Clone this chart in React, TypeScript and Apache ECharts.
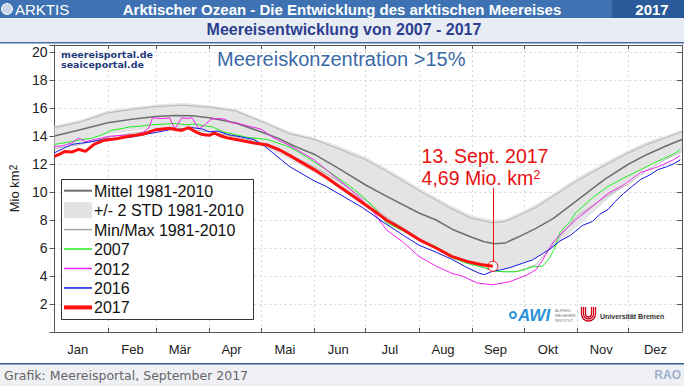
import React, { useEffect, useRef } from "react";
import * as echarts from "echarts";

// ---- axis / tick definitions ----
const monthStarts = [0, 31, 59, 90, 120, 151, 181, 212, 243, 273, 304, 334, 365];
const monthLabelDays = [13.6, 45.4, 73, 103, 134, 165, 195, 226, 256.5, 287, 318, 349.6];
const monthNames = ["Jan", "Feb", "Mär", "Apr", "Mai", "Jun", "Jul", "Aug", "Sep", "Okt", "Nov", "Dez"];

// ---- climatology 1981-2010 ----
const meanDays = [0, 15, 31, 45, 59, 70, 80, 90, 105, 120, 130, 140, 151, 165, 181, 193, 212, 222, 232, 243, 250, 256, 262, 270, 280, 290, 304, 320, 334, 345, 355, 365];
const meanIce = [14.0, 14.45, 14.95, 15.2, 15.4, 15.47, 15.45, 15.3, 14.95, 14.3, 13.85, 13.25, 12.7, 11.7, 10.5, 9.7, 8.5, 8.0, 7.3, 6.75, 6.45, 6.3, 6.35, 6.8, 7.4, 8.1, 9.4, 10.9, 12.0, 12.7, 13.25, 13.75];

const bandDays = [0, 15, 31, 45, 59, 75, 90, 105, 120, 137, 151, 165, 181, 193, 212, 231, 243, 255, 262, 270, 280, 290, 304, 320, 334, 345, 355, 365];
const bandUpper = [14.75, 15.15, 15.8, 16.05, 16.25, 16.35, 16.2, 15.95, 15.2, 14.3, 13.9, 13.3, 12.5, 11.7, 10.3, 9.0, 8.3, 8.0, 8.05, 8.5, 9.1, 9.9, 11.0, 12.1, 13.0, 13.6, 14.0, 14.45];
const bandLower = [13.25, 13.55, 14.1, 14.35, 14.55, 14.6, 14.4, 14.0, 13.3, 12.3, 11.4, 10.3, 8.9, 7.9, 6.5, 5.3, 4.75, 4.5, 4.5, 4.8, 5.3, 6.0, 7.5, 9.3, 10.8, 11.8, 12.4, 13.0];
const maxIce = [14.6, 15.0, 15.65, 15.9, 16.1, 16.2, 16.05, 15.8, 15.05, 14.15, 13.75, 13.1, 12.3, 11.5, 10.1, 8.8, 8.1, 7.8, 7.9, 8.3, 8.9, 9.7, 10.8, 11.9, 12.8, 13.4, 13.85, 14.3];
const minIce = [13.1, 13.4, 13.9, 14.2, 14.4, 14.5, 14.3, 13.95, 13.5, 12.6, 11.8, 10.8, 9.4, 8.2, 6.7, 5.4, 4.9, 4.35, 4.3, 4.35, 4.8, 6.2, 8.3, 9.6, 10.6, 11.6, 12.3, 12.9];

// ---- individual years ----
const days2007 = [0, 5, 10, 16, 22, 28, 33, 40, 44, 50, 56, 63, 70, 76, 82, 88, 92, 98, 104, 112, 124, 137, 144, 151, 158, 165, 172, 179, 186, 193, 203, 212, 222, 231, 240, 250, 256, 262, 268, 272, 278, 284, 288, 291, 294, 300, 303, 313, 322, 331, 341, 351, 360, 364];
const ice2007 = [13.4, 13.5, 13.6, 13.75, 13.85, 14.1, 14.4, 14.55, 14.65, 14.7, 14.8, 14.85, 14.9, 14.8, 14.85, 14.7, 14.65, 14.3, 14.15, 13.9, 13.75, 13.2, 12.7, 12.15, 11.6, 11.0, 10.4, 9.7, 8.9, 7.8, 7.2, 6.6, 6.1, 5.3, 4.9, 4.6, 4.35, 4.3, 4.3, 4.4, 4.65, 4.7, 5.3, 6.0, 7.1, 7.9, 8.5, 9.6, 10.4, 11.0, 11.6, 12.2, 12.7, 13.0];

const days2012 = [0, 5, 10, 14, 18, 25, 33, 40, 48, 52, 55, 57, 62, 64, 67, 70, 74, 77, 80, 84, 88, 91, 95, 99, 103, 107, 113, 120, 127, 132, 137, 144, 151, 158, 165, 172, 179, 186, 193, 203, 212, 222, 231, 237, 246, 255, 265, 275, 280, 284, 290, 294, 303, 313, 322, 331, 341, 351, 360, 364];
const ice2012 = [13.25, 13.3, 13.5, 13.85, 13.6, 13.8, 14.0, 14.05, 14.1, 14.3, 14.6, 15.3, 15.25, 15.25, 15.3, 14.5, 15.3, 15.25, 15.3, 14.5, 14.85, 15.2, 15.25, 15.2, 14.95, 14.9, 14.7, 14.5, 13.9, 13.6, 13.3, 12.8, 12.3, 11.6, 10.9, 10.2, 9.4, 8.5, 7.3, 6.4, 5.4, 4.7, 4.2, 4.0, 3.5, 3.37, 3.6, 4.08, 4.44, 5.16, 6.4, 6.95, 8.0, 8.97, 9.9, 10.5, 11.4, 11.8, 12.3, 12.6];

const days2016 = [0, 5, 10, 16, 22, 28, 36, 44, 52, 59, 67, 74, 80, 86, 90, 95, 101, 108, 116, 122, 127, 132, 137, 144, 151, 158, 165, 172, 179, 186, 193, 203, 212, 222, 231, 240, 247, 250, 255, 260, 265, 272, 278, 284, 288, 294, 300, 303, 307, 313, 317, 322, 326, 331, 336, 341, 346, 351, 356, 360, 364];
const ice2016 = [12.8, 13.1, 13.4, 13.5, 13.6, 13.75, 13.85, 13.9, 14.1, 14.25, 14.45, 14.5, 14.6, 14.5, 14.3, 14.35, 14.1, 13.95, 13.75, 13.3, 12.8, 12.3, 11.8, 11.3, 10.8, 10.4, 9.9, 9.4, 8.9, 8.3, 7.7, 6.9, 6.2, 5.7, 5.2, 4.6, 4.2, 4.1, 4.35, 4.45, 4.6, 4.9, 5.15, 5.6, 5.9, 6.5, 6.9, 7.2, 7.6, 7.9, 8.4, 8.75, 9.3, 9.9, 10.4, 10.9, 11.2, 11.6, 11.8, 12.0, 12.3];

const days2017 = [0, 3, 6, 10, 14, 18, 23, 29, 36, 44, 52, 59, 63, 67, 71, 74, 78, 82, 86, 90, 93, 97, 101, 108, 116, 124, 131, 137, 144, 151, 158, 165, 172, 179, 186, 193, 203, 212, 222, 231, 240, 248, 252, 255];
const ice2017 = [12.55, 12.7, 12.9, 12.85, 13.05, 12.9, 13.4, 13.7, 13.8, 14.0, 14.15, 14.45, 14.5, 14.55, 14.45, 14.4, 14.6, 14.3, 14.1, 14.05, 14.2, 14.0, 13.85, 13.7, 13.5, 13.35, 13.0, 12.6, 12.1, 11.6, 11.05, 10.45, 9.85, 9.25, 8.65, 8.0, 7.3, 6.6, 6.0, 5.4, 5.04, 4.82, 4.75, 4.69];

const annoDay = 255;
const annoValue = 4.69;
const annoLineTop = 10.3;

const NARROW = '"Liberation Sans Narrow", "Arial Narrow", "Liberation Sans", Arial, sans-serif';
const SANS = '"Liberation Sans", Arial, Helvetica, sans-serif';
const WIDE = '"DejaVu Sans", Verdana, sans-serif';

const zip = (d: number[], v: number[]) => d.map((x, i) => [x, v[i]]);

const legendItems = [
  { label: "Mittel 1981-2010", kind: "line", color: "#6e6e6e", width: 2 },
  { label: "+/- 2 STD 1981-2010", kind: "rect", color: "#e2e2e2", width: 0 },
  { label: "Min/Max 1981-2010", kind: "line", color: "#a8a8a8", width: 1.5 },
  { label: "2007", kind: "line", color: "#22ee22", width: 1.5 },
  { label: "2012", kind: "line", color: "#ee22ee", width: 1.5 },
  { label: "2016", kind: "line", color: "#1414e0", width: 1.5 },
  { label: "2017", kind: "line", color: "#ff1010", width: 4 },
];

export default function App() {
  const ref = useRef<HTMLDivElement>(null);
  useEffect(() => {
    document.body.style.margin = "0";
    const chart = echarts.init(ref.current!, null, { renderer: "svg" });

    const lineSeries = (name: string, data: number[][], color: string, width: number, z = 3) => ({
      name,
      type: "line",
      data,
      showSymbol: false,
      symbol: "none",
      z,
      lineStyle: { color, width },
      silent: true,
    });

    const legendGraphics: any[] = [
      {
        type: "rect",
        shape: { x: 61.5, y: 179.5, width: 192, height: 140 },
        style: { fill: "#fff", stroke: "#333", lineWidth: 1 },
        z: 20,
      },
    ];
    legendItems.forEach((it, i) => {
      const cy = 190.7 + i * 19.45;
      if (it.kind === "rect") {
        legendGraphics.push({
          type: "rect",
          shape: { x: 64, y: cy - 8, width: 28, height: 16 },
          style: { fill: it.color },
          z: 21,
        });
      } else {
        legendGraphics.push({
          type: "line",
          shape: { x1: 64, y1: cy, x2: 92, y2: cy },
          style: { stroke: it.color, lineWidth: it.width },
          z: 21,
        });
      }
      legendGraphics.push({
        type: "text",
        x: 94,
        y: cy + 0.5,
        style: { text: it.label, fill: "#111", font: `16px ${SANS}`, verticalAlign: "middle" },
        z: 21,
      });
    });

    const uniArcs: any[] = [7, 5, 3].map((r) => ({
      type: "arc",
      shape: { cx: 588.5, cy: 314, r, startAngle: 0, endAngle: Math.PI },
      style: { stroke: "#d4001a", lineWidth: 1.3, fill: "none" },
    }));
    const uniLines: any[] = [];
    [7, 5, 3].forEach((r) => {
      uniLines.push({ type: "line", shape: { x1: 588.5 - r, y1: 307, x2: 588.5 - r, y2: 314 }, style: { stroke: "#d4001a", lineWidth: 1.3 } });
      uniLines.push({ type: "line", shape: { x1: 588.5 + r, y1: 307, x2: 588.5 + r, y2: 314 }, style: { stroke: "#d4001a", lineWidth: 1.3 } });
    });

    const option: any = {
      animation: false,
      backgroundColor: "#ffffff",
      grid: { left: 39, right: 2, top: 45, bottom: 54, show: false },
      xAxis: [
        {
          type: "value",
          min: 0,
          max: 365,
          position: "bottom",
          axisLine: { show: true, onZero: false, lineStyle: { color: "#555", width: 1 } },
          axisTick: { show: true, inside: true, length: 4, customValues: monthStarts, lineStyle: { color: "#555" } },
          axisLabel: {
            customValues: monthLabelDays,
            formatter: (v: number) => {
              const i = monthLabelDays.indexOf(v);
              return i >= 0 ? monthNames[i] : "";
            },
            fontSize: 13,
            fontFamily: NARROW,
            color: "#222",
            margin: 11,
          },
          splitLine: { show: true, lineStyle: { color: "#d6d6d6", type: [2, 3], width: 1 } },
        },
        {
          type: "value",
          min: 0,
          max: 365,
          position: "top",
          axisLine: { show: true, onZero: false, lineStyle: { color: "#555", width: 1 } },
          axisTick: { show: true, inside: true, length: 4, customValues: monthStarts, lineStyle: { color: "#555" } },
          axisLabel: { show: false },
          splitLine: { show: false },
        },
      ],
      yAxis: [
        {
          type: "value",
          min: 0,
          max: 20.5,
          interval: 2,
          position: "left",
          axisLine: { show: true, onZero: false, lineStyle: { color: "#555", width: 1 } },
          axisTick: { show: true, inside: false, length: 5, lineStyle: { color: "#555" } },
          axisLabel: {
            formatter: (v: number) => (v > 0 && v <= 20 ? String(v) : ""),
            fontSize: 14,
            fontFamily: NARROW,
            color: "#222",
            margin: 7,
          },
          splitLine: { show: true, lineStyle: { color: "#d6d6d6", type: [2, 3], width: 1 } },
          name: "Mio km{s|2}",
          nameLocation: "middle",
          nameGap: 21,
          nameRotate: 90,
          nameTextStyle: {
            fontSize: 13,
            fontFamily: SANS,
            color: "#222",
            rich: { s: { fontSize: 10, verticalAlign: "top", fontFamily: SANS, color: "#222" } },
          },
        },
        {
          type: "value",
          min: 0,
          max: 20.5,
          interval: 2,
          position: "right",
          axisLine: { show: true, onZero: false, lineStyle: { color: "#555", width: 1 } },
          axisTick: { show: true, inside: true, length: 5, lineStyle: { color: "#555" } },
          axisLabel: { show: false },
          splitLine: { show: false },
        },
      ],
      series: [
        {
          name: "+/- 2 STD 1981-2010",
          type: "custom",
          silent: true,
          z: 1,
          data: [[0, 0]],
          renderItem: (_params: any, api: any) => {
            const pts: number[][] = [];
            for (let i = 0; i < bandDays.length; i++) pts.push(api.coord([bandDays[i], bandUpper[i]]));
            for (let i = bandDays.length - 1; i >= 0; i--) pts.push(api.coord([bandDays[i], bandLower[i]]));
            return { type: "polygon", shape: { points: pts }, style: { fill: "#e4e4e4", stroke: "none" } };
          },
        },
        lineSeries("Max 1981-2010", zip(bandDays, maxIce), "#b4b4b4", 1, 2),
        lineSeries("Min 1981-2010", zip(bandDays, minIce), "#b0b0b0", 1, 2),
        lineSeries("Mittel 1981-2010", zip(meanDays, meanIce), "#6e6e6e", 1.5, 3),
        lineSeries("2007", zip(days2007, ice2007), "#22ee22", 1, 4),
        lineSeries("2012", zip(days2012, ice2012), "#ee22ee", 1, 4),
        lineSeries("2016", zip(days2016, ice2016), "#1414e0", 1, 4),
        {
          ...lineSeries("2017", zip(days2017, ice2017), "#ff1010", 3, 5),
          markLine: {
            silent: true,
            symbol: ["none", "none"],
            label: { show: false },
            lineStyle: { color: "#e81010", width: 1, type: "solid" },
            data: [[{ coord: [annoDay, annoValue + 0.3] }, { coord: [annoDay, annoLineTop] }]],
          },
          markPoint: {
            silent: true,
            symbol: "circle",
            symbolSize: 10,
            label: { show: false },
            itemStyle: { color: "#ffffff", borderColor: "#e81010", borderWidth: 1 },
            data: [{ coord: [annoDay, annoValue] }],
          },
        },
      ],
      graphic: [
        // header bar
        { type: "rect", shape: { x: 0, y: 0, width: 684, height: 18 }, style: { fill: "#3e72b2" } },
        { type: "rect", shape: { x: 612, y: 0, width: 72, height: 18 }, style: { fill: "#2b5a9a" } },
        { type: "circle", shape: { cx: 7, cy: 9, r: 5.5 }, style: { fill: "#c9d6ea", stroke: "#ffffff", lineWidth: 1 } },
        { type: "text", x: 15, y: 9.5, style: { text: "ARKTIS", fill: "#fff", font: `15px ${NARROW}`, verticalAlign: "middle" } },
        {
          type: "text",
          x: 342,
          y: 9.5,
          style: { text: "Arktischer Ozean - Die Entwicklung des arktischen Meereises", fill: "#fff", font: `bold 15px ${NARROW}`, align: "center", verticalAlign: "middle" },
        },
        { type: "text", x: 652, y: 9.5, style: { text: "2017", fill: "#fff", font: `bold 15px ${NARROW}`, align: "center", verticalAlign: "middle" } },
        // subtitle band
        { type: "rect", shape: { x: 0, y: 18, width: 684, height: 24 }, style: { fill: "#e8edf5" } },
        { type: "rect", shape: { x: 0, y: 42, width: 684, height: 1.5 }, style: { fill: "#4a6aa5" } },
        {
          type: "text",
          x: 344,
          y: 29,
          style: { text: "Meereisentwicklung von 2007 - 2017", fill: "#2e3f8f", font: `bold 16px ${SANS}`, align: "center", verticalAlign: "middle" },
        },
        // footer
        { type: "rect", shape: { x: 0, y: 364, width: 684, height: 22 }, style: { fill: "#eef0f4" } },
        { type: "rect", shape: { x: 0, y: 363, width: 684, height: 1.5 }, style: { fill: "#3c5a98" } },
        { type: "text", x: 4, y: 375, style: { text: "Grafik: Meereisportal, September 2017", fill: "#666", font: `12.5px ${WIDE}`, verticalAlign: "middle" } },
        { type: "text", x: 681, y: 375, style: { text: "RAO", fill: "#9fb0cc", font: `bold 12px ${SANS}`, align: "right", verticalAlign: "middle" } },
        // in-plot texts
        { type: "text", x: 61, y: 54.5, z: 10, style: { text: "meereisportal.de", fill: "#1f3a7a", font: `bold 9.5px ${WIDE}`, verticalAlign: "middle" } },
        { type: "text", x: 61, y: 64.5, z: 10, style: { text: "seaiceportal.de", fill: "#1f3a7a", font: `bold 9.5px ${WIDE}`, verticalAlign: "middle" } },
        { type: "text", x: 217, y: 59, z: 10, style: { text: "Meereiskonzentration >15%", fill: "#3b69a8", font: `20px ${SANS}`, verticalAlign: "middle" } },
        // annotation
        { type: "text", x: 485, y: 155.5, z: 10, style: { text: "13. Sept. 2017", fill: "#e81010", font: `19.5px ${SANS}`, align: "center", verticalAlign: "middle" } },
        {
          type: "text",
          x: 481,
          y: 178,
          z: 10,
          style: {
            text: "4,69 Mio. km{s|2}",
            fill: "#e81010",
            font: `19.5px ${SANS}`,
            align: "center",
            verticalAlign: "middle",
            rich: { s: { fontSize: 13, verticalAlign: "top", fill: "#e81010", fontFamily: SANS, lineHeight: 10 } },
          },
        },
        // legend
        ...legendGraphics,
        // AWI logo
        { type: "ring", shape: { cx: 513, cy: 315, r: 4, r0: 2 }, style: { fill: "#2a93d5" }, z: 10 },
        { type: "text", x: 518, y: 315, z: 10, style: { text: "AWI", fill: "#2a93d5", font: `italic bold 17px ${SANS}`, verticalAlign: "middle" } },
        { type: "text", x: 555, y: 310, z: 10, style: { text: "ALFRED", fill: "#777", font: `4px ${SANS}`, verticalAlign: "middle" } },
        { type: "text", x: 555, y: 315, z: 10, style: { text: "WEGENER", fill: "#777", font: `4px ${SANS}`, verticalAlign: "middle" } },
        { type: "text", x: 555, y: 320, z: 10, style: { text: "INSTITUT", fill: "#777", font: `4px ${SANS}`, verticalAlign: "middle" } },
        // Uni Bremen logo
        ...uniArcs.map((a) => ({ ...a, z: 10 })),
        ...uniLines.map((a) => ({ ...a, z: 10 })),
        { type: "text", x: 600, y: 316, z: 10, style: { text: "Universität Bremen", fill: "#333", font: `bold 7px ${SANS}`, verticalAlign: "middle" } },
      ],
    };

    chart.setOption(option);
    return () => chart.dispose();
  }, []);

  return <div ref={ref} style={{ width: 684, height: 386 }} />;
}
